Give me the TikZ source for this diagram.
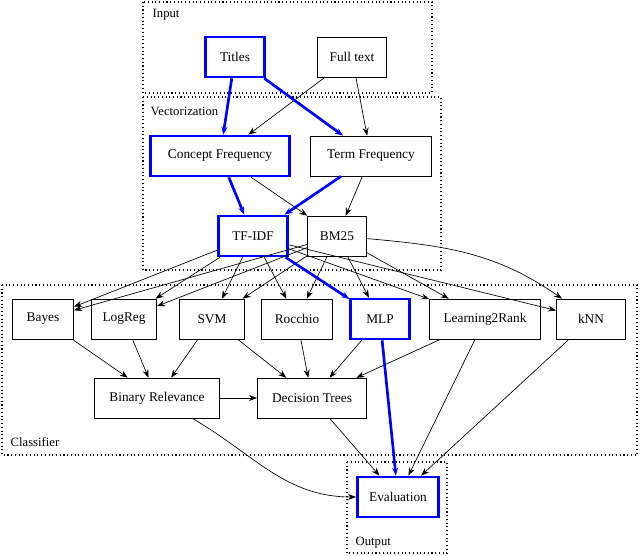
\documentclass[tikz,border=0pt]{standalone}
\usepackage{fontspec}
\setmainfont{Liberation Serif}
\usetikzlibrary{arrows.meta}
\tikzset{
  box/.style={draw, line width=0.5pt, minimum height=30pt, inner xsep=5pt, font=\fontsize{10}{12}\selectfont},
  sel/.style={box, draw=blue, line width=2pt},
  edge/.style={-{Stealth[length=6pt,width=4.5pt]}, line width=0.5pt},
  hot/.style={edge, draw=blue, fill=blue, line width=2pt},
  cluster/.style={draw, dotted, line width=0.8pt},
  clabel/.style={anchor=west, font=\fontsize{9.5}{11}\selectfont}
}
\begin{document}
\begin{tikzpicture}[x=0.75pt,y=-0.75pt]
  \useasboundingbox (0,0) rectangle (640,556);
  % clusters
  \draw[cluster] (143,2) rectangle (432,93);
  \node[clabel] at (148,15) {Input};
  \draw[cluster] (143,97) rectangle (441,270);
  \node[clabel] at (146,111) {Vectorization};
  \draw[cluster] (2,285) rectangle (637,455);
  \node[clabel] at (6,442) {Classifier};
  \draw[cluster] (347,462) rectangle (447,553);
  \node[clabel] at (351,543) {Output};

  % input
  \node[sel, minimum width=44pt] (titles) at (235,57) {Titles};
  \node[box, minimum width=52pt] (full) at (352,57) {Full text};
  % vectorization
  \node[sel, minimum width=104pt] (concept) at (220,156) {Concept Frequency};
  \node[box, minimum width=91pt] (term) at (371,156) {Term Frequency};
  \node[sel, minimum width=52pt] (tfidf) at (253,236) {TF-IDF};
  \node[box, minimum width=44pt] (bm) at (337,236) {BM25};
  % classifier
  \node[box, minimum width=46pt] (bayes) at (43,319) {Bayes};
  \node[box, minimum width=49pt] (logreg) at (124,319) {LogReg};
  \node[box, minimum width=49pt] (svm) at (212,319) {SVM};
  \node[box, minimum width=53pt] (rocchio) at (297,319) {Rocchio};
  \node[sel, minimum width=44pt] (mlp) at (380,319) {MLP};
  \node[box, minimum width=83pt] (l2r) at (485,319) {Learning2Rank};
  \node[box, minimum width=52pt] (knn) at (591,319) {kNN};
  \node[box, minimum width=94pt] (br) at (157,398) {Binary Relevance};
  \node[box, minimum width=82pt] (dt) at (312,398) {Decision Trees};
  % output
  \node[sel, minimum width=61pt] (eval) at (398,497) {Evaluation};

  % edges
  \draw[edge] (full) -- (concept);
  \draw[edge] (full) -- (term);
  \draw[edge] (concept) -- (bm);
  \draw[edge] (term) -- (bm);
  \foreach \c in {bayes,logreg,svm,rocchio,l2r,knn}
    \draw[edge] (tfidf) -- (\c);
  \foreach \c in {bayes,logreg,svm,rocchio,mlp,l2r}
    \draw[edge] (bm) -- (\c);
  \draw[edge] (bm) to[out=-5,in=145] (knn);
  \draw[edge] (bayes) -- (br);
  \draw[edge] (logreg) -- (br);
  \draw[edge] (svm) -- (br);
  \draw[edge] (svm) -- (dt);
  \draw[edge] (rocchio) -- (dt);
  \draw[edge] (mlp) -- (dt);
  \draw[edge] (l2r) -- (dt);
  \draw[edge] (br) -- (dt);
  \draw[edge] (br) to[out=-30,in=180] (eval);
  \draw[edge] (dt) -- (eval);
  \draw[edge] (l2r) -- (eval);
  \draw[edge] (knn) -- (eval);
  % highlighted path
  \draw[hot] (titles) -- (concept);
  \draw[hot] (titles) -- (term);
  \draw[hot] (concept) -- (tfidf);
  \draw[hot] (term) -- (tfidf);
  \draw[hot] (tfidf) -- (mlp);
  \draw[hot] (mlp) -- (eval);
\end{tikzpicture}
\end{document}
